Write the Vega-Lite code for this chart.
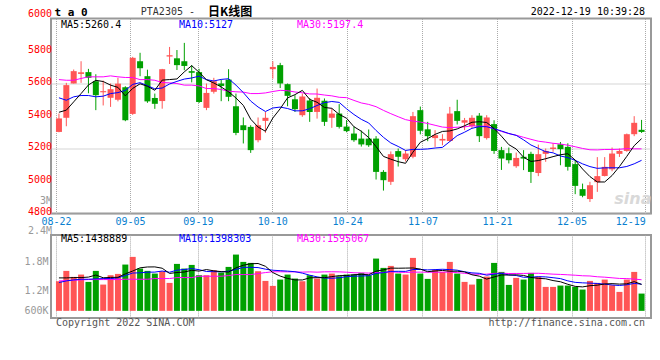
{
"$schema":"https://vega.github.io/schema/vega-lite/v6.json",
"background":"white",
"padding":{"left":22,"top":4.5,"right":0,"bottom":0},
"autosize":{"type":"pad"},
"bounds":"flush",
"spacing":21.4,
"config":{"view":{"stroke":"#999999","strokeWidth":2},"font":"DejaVu Sans Mono","axis":{"labelFont":"DejaVu Sans Mono","labelFontSize":10,"ticks":false,"domain":false,"gridColor":"#aaaaaa","gridDash":[1,1],"gridWidth":1,"title":null}},
"datasets":{"k":[
{"i":0,"d":"08-22","o":5302,"h":5415,"l":5300,"c":5385,"m5":5423,"m10":5512,"m30":5624,"v":1560000,"v5":1702000,"v10":1504000,"v30":1574000},
{"i":1,"d":"08-23","o":5389,"h":5604,"l":5337,"c":5590,"m5":5436,"m10":5497,"m30":5620,"v":2000000,"v5":1702000,"v10":1574000,"v30":1589000},
{"i":2,"d":"08-24","o":5600,"h":5686,"l":5600,"c":5676,"m5":5487,"m10":5518,"m30":5620,"v":1745000,"v5":1716000,"v10":1617000,"v30":1603000},
{"i":3,"d":"08-25","o":5659,"h":5737,"l":5604,"c":5669,"m5":5538,"m10":5526,"m30":5631,"v":1844000,"v5":1716000,"v10":1645000,"v30":1617000},
{"i":4,"d":"08-26","o":5670,"h":5690,"l":5540,"c":5635,"m5":5591,"m10":5526,"m30":5641,"v":1532000,"v5":1736000,"v10":1645000,"v30":1631000},
{"i":5,"d":"08-29","o":5614,"h":5657,"l":5436,"c":5528,"m5":5619.6,"m10":5518,"m30":5641,"v":2000000,"v5":1824000,"v10":1660000,"v30":1631000},
{"i":6,"d":"08-30","o":5546,"h":5618,"l":5465,"c":5553,"m5":5612.2,"m10":5522,"m30":5641,"v":1418000,"v5":1708000,"v10":1674000,"v30":1631000},
{"i":7,"d":"08-31","o":5512,"h":5600,"l":5456,"c":5565,"m5":5590,"m10":5538,"m30":5647,"v":1816000,"v5":1722000,"v10":1674000,"v30":1631000},
{"i":8,"d":"09-01","o":5500,"h":5635,"l":5490,"c":5599,"m5":5576,"m10":5544,"m30":5641,"v":1872000,"v5":1728000,"v10":1702000,"v30":1631000},
{"i":9,"d":"09-02","o":5577,"h":5583,"l":5368,"c":5374,"m5":5523.8,"m10":5557.4,"m30":5637,"v":2270000,"v5":1875000,"v10":1806000,"v30":1645000},
{"i":10,"d":"09-05","o":5413,"h":5764,"l":5407,"c":5758,"m5":5569.8,"m10":5594.7,"m30":5637,"v":2596000,"v5":1994000,"v10":1909000,"v30":1645000},
{"i":11,"d":"09-06","o":5737,"h":5789,"l":5645,"c":5694,"m5":5598,"m10":5605.1,"m30":5624,"v":2099000,"v5":2131000,"v10":1919000,"v30":1645000},
{"i":12,"d":"09-07","o":5645,"h":5685,"l":5481,"c":5490,"m5":5583,"m10":5586.5,"m30":5624,"v":2000000,"v5":2167000,"v10":1945000,"v30":1645000},
{"i":13,"d":"09-08","o":5511,"h":5538,"l":5444,"c":5475,"m5":5558.2,"m10":5567.1,"m30":5620,"v":1886000,"v5":2170000,"v10":1949000,"v30":1674000},
{"i":14,"d":"09-09","o":5492,"h":5690,"l":5445,"c":5688,"m5":5621,"m10":5572.4,"m30":5606,"v":1986000,"v5":2114000,"v10":1994000,"v30":1674000},
{"i":15,"d":"09-13","o":5766,"h":5825,"l":5720,"c":5774,"m5":5624.2,"m10":5597,"m30":5604,"v":1489000,"v5":1892000,"v10":1943000,"v30":1674000},
{"i":16,"d":"09-14","o":5755,"h":5806,"l":5683,"c":5713,"m5":5628,"m10":5613,"m30":5600,"v":2298000,"v5":1932000,"v10":2031000,"v30":1716000},
{"i":17,"d":"09-15","o":5737,"h":5850,"l":5682,"c":5708,"m5":5671.6,"m10":5627.3,"m30":5590,"v":2099000,"v5":1952000,"v10":2060000,"v30":1716000},
{"i":18,"d":"09-16","o":5676,"h":5713,"l":5607,"c":5666,"m5":5709.8,"m10":5634,"m30":5590,"v":2255000,"v5":2026000,"v10":2098000,"v30":1716000},
{"i":19,"d":"09-19","o":5670,"h":5690,"l":5480,"c":5486,"m5":5669.4,"m10":5645.2,"m30":5585,"v":1816000,"v5":1992000,"v10":2052000,"v30":1773000},
{"i":20,"d":"09-20","o":5450,"h":5600,"l":5436,"c":5542,"m5":5623,"m10":5623.6,"m30":5569,"v":1816000,"v5":2057000,"v10":1974000,"v30":1773000},
{"i":21,"d":"09-21","o":5549,"h":5635,"l":5538,"c":5614,"m5":5603.2,"m10":5615.6,"m30":5569,"v":2028000,"v5":2003000,"v10":1967000,"v30":1773000},
{"i":22,"d":"09-22","o":5600,"h":5624,"l":5491,"c":5585,"m5":5578.6,"m10":5625.1,"m30":5563,"v":1929000,"v5":1969000,"v10":1960000,"v30":1773000},
{"i":23,"d":"09-23","o":5624,"h":5688,"l":5491,"c":5518,"m5":5549,"m10":5629.4,"m30":5553,"v":2170000,"v5":1952000,"v10":1989000,"v30":1801000},
{"i":24,"d":"09-26","o":5460,"h":5538,"l":5282,"c":5296,"m5":5511,"m10":5590.2,"m30":5549,"v":2695000,"v5":2128000,"v10":2060000,"v30":1844000},
{"i":25,"d":"09-27","o":5343,"h":5391,"l":5231,"c":5313,"m5":5465.2,"m10":5544.1,"m30":5547,"v":2383000,"v5":2241000,"v10":2149000,"v30":1844000},
{"i":26,"d":"09-28","o":5333,"h":5343,"l":5173,"c":5190,"m5":5380.4,"m10":5491.8,"m30":5538,"v":2340000,"v5":2304000,"v10":2153000,"v30":1844000},
{"i":27,"d":"09-29","o":5251,"h":5391,"l":5238,"c":5343,"m5":5332,"m10":5455.3,"m30":5538,"v":1986000,"v5":2315000,"v10":2142000,"v30":1886000},
{"i":28,"d":"09-30","o":5370,"h":5425,"l":5296,"c":5389,"m5":5306.2,"m10":5427.6,"m30":5542,"v":1574000,"v5":2196000,"v10":2074000,"v30":1929000},
{"i":29,"d":"10-10","o":5688,"h":5737,"l":5630,"c":5702,"m5":5387.4,"m10":5449.2,"m30":5550.6,"v":1362000,"v5":1929000,"v10":2028000,"v30":1962000},
{"i":30,"d":"10-11","o":5713,"h":5727,"l":5572,"c":5600,"m5":5444.8,"m10":5455,"m30":5557.8,"v":1631000,"v5":1779000,"v10":2010000,"v30":1965000},
{"i":31,"d":"10-12","o":5596,"h":5600,"l":5460,"c":5524,"m5":5511.6,"m10":5446,"m30":5555.6,"v":1844000,"v5":1679000,"v10":1991000,"v30":1959000},
{"i":32,"d":"10-13","o":5503,"h":5528,"l":5425,"c":5442,"m5":5531.4,"m10":5431.7,"m30":5547.8,"v":1674000,"v5":1617000,"v10":1966000,"v30":1958000},
{"i":33,"d":"10-14","o":5405,"h":5538,"l":5395,"c":5520,"m5":5557.6,"m10":5431.9,"m30":5542.8,"v":1560000,"v5":1614000,"v10":1905000,"v30":1948000},
{"i":34,"d":"10-17","o":5495,"h":5510,"l":5364,"c":5425,"m5":5502.2,"m10":5444.8,"m30":5535.8,"v":1816000,"v5":1705000,"v10":1817000,"v30":1958000},
{"i":35,"d":"10-18","o":5425,"h":5569,"l":5384,"c":5512,"m5":5484.6,"m10":5464.7,"m30":5535.3,"v":1674000,"v5":1713000,"v10":1746000,"v30":1946000},
{"i":36,"d":"10-19","o":5494,"h":5508,"l":5339,"c":5364,"m5":5452.6,"m10":5482.1,"m30":5529,"v":1844000,"v5":1713000,"v10":1696000,"v30":1960000},
{"i":37,"d":"10-20","o":5389,"h":5446,"l":5327,"c":5415,"m5":5447.2,"m10":5489.3,"m30":5524,"v":1886000,"v5":1756000,"v10":1687000,"v30":1963000},
{"i":38,"d":"10-21","o":5415,"h":5473,"l":5323,"c":5333,"m5":5409.8,"m10":5483.7,"m30":5515.1,"v":1773000,"v5":1799000,"v10":1706000,"v30":1959000},
{"i":39,"d":"10-24","o":5335,"h":5375,"l":5300,"c":5307,"m5":5386.2,"m10":5444.2,"m30":5512.9,"v":1844000,"v5":1804000,"v10":1755000,"v30":1945000},
{"i":40,"d":"10-25","o":5292,"h":5335,"l":5241,"c":5251,"m5":5334,"m10":5409.3,"m30":5496,"v":1844000,"v5":1838000,"v10":1776000,"v30":1921000},
{"i":41,"d":"10-26","o":5261,"h":5310,"l":5212,"c":5225,"m5":5306.2,"m10":5379.4,"m30":5480.3,"v":1915000,"v5":1853000,"v10":1783000,"v30":1914000},
{"i":42,"d":"10-27","o":5261,"h":5317,"l":5210,"c":5220,"m5":5267.2,"m10":5357.2,"m30":5471.3,"v":1816000,"v5":1838000,"v10":1797000,"v30":1908000},
{"i":43,"d":"10-28","o":5261,"h":5276,"l":5009,"c":5056,"m5":5211.8,"m10":5310.8,"m30":5457.4,"v":2525000,"v5":1989000,"v10":1894000,"v30":1929000},
{"i":44,"d":"10-31","o":5056,"h":5067,"l":4941,"c":5005,"m5":5151.4,"m10":5268.8,"m30":5434.6,"v":2128000,"v5":2045000,"v10":1925000,"v30":1933000},
{"i":45,"d":"11-01","o":4995,"h":5182,"l":4976,"c":5165,"m5":5134.2,"m10":5234.1,"m30":5414.3,"v":2213000,"v5":2119000,"v10":1979000,"v30":1958000},
{"i":46,"d":"11-02","o":5184,"h":5200,"l":5089,"c":5149,"m5":5119,"m10":5212.6,"m30":5395.5,"v":1886000,"v5":2114000,"v10":1983000,"v30":1945000},
{"i":47,"d":"11-03","o":5134,"h":5190,"l":5120,"c":5169,"m5":5108.8,"m10":5188,"m30":5377.5,"v":1844000,"v5":2119000,"v10":1979000,"v30":1936000},
{"i":48,"d":"11-04","o":5149,"h":5425,"l":5140,"c":5399,"m5":5177.4,"m10":5194.6,"m30":5368.6,"v":2553000,"v5":2125000,"v10":2057000,"v30":1946000},
{"i":49,"d":"11-07","o":5436,"h":5458,"l":5287,"c":5309,"m5":5238.2,"m10":5194.8,"m30":5362.7,"v":1886000,"v5":2077000,"v10":2061000,"v30":1948000},
{"i":50,"d":"11-08","o":5318,"h":5364,"l":5245,"c":5276,"m5":5260.4,"m10":5197.3,"m30":5353.9,"v":1660000,"v5":1966000,"v10":2043000,"v30":1943000},
{"i":51,"d":"11-09","o":5264,"h":5313,"l":5210,"c":5282,"m5":5287,"m10":5203,"m30":5342.8,"v":2043000,"v5":1997000,"v10":2055000,"v30":1943000},
{"i":52,"d":"11-10","o":5249,"h":5288,"l":5220,"c":5259,"m5":5305,"m10":5206.9,"m30":5331.9,"v":1957000,"v5":2020000,"v10":2069000,"v30":1945000},
{"i":53,"d":"11-11","o":5246,"h":5456,"l":5240,"c":5415,"m5":5308.2,"m10":5242.8,"m30":5328.5,"v":2383000,"v5":1986000,"v10":2055000,"v30":1952000},
{"i":54,"d":"11-14","o":5430,"h":5500,"l":5348,"c":5370,"m5":5320.4,"m10":5279.3,"m30":5331,"v":1886000,"v5":1986000,"v10":2031000,"v30":1925000},
{"i":55,"d":"11-15","o":5359,"h":5388,"l":5313,"c":5374,"m5":5340,"m10":5300.2,"m30":5333,"v":1532000,"v5":1960000,"v10":1963000,"v30":1897000},
{"i":56,"d":"11-16","o":5338,"h":5405,"l":5325,"c":5389,"m5":5361.4,"m10":5324.2,"m30":5339.6,"v":1418000,"v5":1835000,"v10":1916000,"v30":1865000},
{"i":57,"d":"11-17","o":5402,"h":5418,"l":5240,"c":5276,"m5":5364.8,"m10":5334.9,"m30":5337.4,"v":1660000,"v5":1776000,"v10":1898000,"v30":1854000},
{"i":58,"d":"11-18","o":5264,"h":5405,"l":5255,"c":5391,"m5":5360,"m10":5334.1,"m30":5337.5,"v":1759000,"v5":1651000,"v10":1818000,"v30":1861000},
{"i":59,"d":"11-21","o":5350,"h":5374,"l":5167,"c":5185,"m5":5323,"m10":5321.7,"m30":5320.2,"v":2340000,"v5":1742000,"v10":1864000,"v30":1894000},
{"i":60,"d":"11-22","o":5190,"h":5210,"l":5068,"c":5138,"m5":5275.8,"m10":5307.9,"m30":5304.8,"v":1957000,"v5":1827000,"v10":1894000,"v30":1904000},
{"i":61,"d":"11-23","o":5171,"h":5206,"l":5108,"c":5128,"m5":5223.6,"m10":5292.5,"m30":5291.6,"v":1404000,"v5":1824000,"v10":1830000,"v30":1889000},
{"i":62,"d":"11-24","o":5091,"h":5175,"l":5081,"c":5142,"m5":5196.8,"m10":5280.8,"m30":5281.6,"v":1702000,"v5":1833000,"v10":1804000,"v30":1891000},
{"i":63,"d":"11-25","o":5149,"h":5190,"l":5067,"c":5138,"m5":5146.2,"m10":5253.1,"m30":5268.9,"v":1631000,"v5":1807000,"v10":1729000,"v30":1892000},
{"i":64,"d":"11-28","o":5167,"h":5180,"l":4988,"c":5056,"m5":5120.4,"m10":5221.7,"m30":5256.6,"v":1915000,"v5":1722000,"v10":1732000,"v30":1897000},
{"i":65,"d":"11-29","o":5049,"h":5224,"l":5030,"c":5165,"m5":5125.8,"m10":5200.8,"m30":5245,"v":1759000,"v5":1682000,"v10":1755000,"v30":1899000},
{"i":66,"d":"11-30","o":5167,"h":5200,"l":5118,"c":5185,"m5":5137.2,"m10":5180.4,"m30":5239.1,"v":1319000,"v5":1665000,"v10":1745000,"v30":1881000},
{"i":67,"d":"12-01","o":5197,"h":5232,"l":5180,"c":5206,"m5":5150,"m10":5173.4,"m30":5232.1,"v":1319000,"v5":1589000,"v10":1711000,"v30":1862000},
{"i":68,"d":"12-02","o":5226,"h":5240,"l":5097,"c":5196,"m5":5161.6,"m10":5153.9,"m30":5227.5,"v":1376000,"v5":1538000,"v10":1672000,"v30":1850000},
{"i":69,"d":"12-05","o":5210,"h":5232,"l":5064,"c":5087,"m5":5167.8,"m10":5144.1,"m30":5220.2,"v":1376000,"v5":1430000,"v10":1576000,"v30":1834000},
{"i":70,"d":"12-06","o":5104,"h":5130,"l":4919,"c":4970,"m5":5128.8,"m10":5127.3,"m30":5210.8,"v":1319000,"v5":1342000,"v10":1512000,"v30":1816000},
{"i":71,"d":"12-07","o":4950,"h":4984,"l":4900,"c":4909,"m5":5073.6,"m10":5105.4,"m30":5200.3,"v":1206000,"v5":1319000,"v10":1492000,"v30":1793000},
{"i":72,"d":"12-08","o":4889,"h":4995,"l":4871,"c":4974,"m5":5027.2,"m10":5088.6,"m30":5192.1,"v":1574000,"v5":1370000,"v10":1479000,"v30":1784000},
{"i":73,"d":"12-09","o":4993,"h":5147,"l":4933,"c":5030,"m5":4994,"m10":5077.8,"m30":5191.2,"v":1489000,"v5":1393000,"v10":1465000,"v30":1750000},
{"i":74,"d":"12-12","o":5031,"h":5147,"l":5028,"c":5087,"m5":4994,"m10":5080.9,"m30":5194,"v":1631000,"v5":1444000,"v10":1437000,"v30":1733000},
{"i":75,"d":"12-13","o":5072,"h":5206,"l":5060,"c":5169,"m5":5033.8,"m10":5081.3,"m30":5194.1,"v":1390000,"v5":1458000,"v10":1400000,"v30":1706000},
{"i":76,"d":"12-14","o":5167,"h":5200,"l":5148,"c":5185,"m5":5089,"m10":5081.3,"m30":5195.3,"v":1106000,"v5":1438000,"v10":1379000,"v30":1679000},
{"i":77,"d":"12-15","o":5185,"h":5292,"l":5180,"c":5288,"m5":5151.8,"m10":5089.5,"m30":5199.3,"v":1631000,"v5":1450000,"v10":1410000,"v30":1672000},
{"i":78,"d":"12-16","o":5288,"h":5399,"l":5276,"c":5358,"m5":5217.4,"m10":5105.7,"m30":5197.9,"v":1957000,"v5":1543000,"v10":1468000,"v30":1652000},
{"i":79,"d":"12-19","o":5315,"h":5376,"l":5296,"c":5302,"m5":5260.4,"m10":5127.2,"m30":5197.7,"v":1035000,"v5":1424000,"v10":1434000,"v30":1624000}
]},
"vconcat":[
{"width":600,"height":195,
 "layer":[
  {"data":{"name":"k"},"mark":{"type":"rule","strokeWidth":1},
   "encoding":{
    "x":{"field":"i","type":"quantitative","scale":{"domain":[-0.4,79.6],"nice":false,"zero":false},
         "axis":{"title":null,"values":[-0.4,9.64,18.84,28.93,39.07,49.29,59.4,69.51,79.51],"grid":true,"labelColor":"#0a7fd0","labelBaseline":"middle","labelPadding":7.5,
         "labelExpr":"['08-22','09-05','09-19','10-10','10-24','11-07','11-21','12-05','12-19'][round((datum.value+0.4)/10)]",
         "labelAlign":{"condition":{"test":"datum.value > 79","value":"right"},"value":"center"}}},
    "y":{"field":"l","type":"quantitative","scale":{"domain":[4800,6000],"nice":false,"zero":false},
         "axis":{"title":null,"values":[4800,5000,5200,5400,5600,5800],"grid":true,"labels":false}},
    "y2":{"field":"h"},
    "color":{"condition":{"test":"datum.c >= datum.o","value":"#ff5555"},"value":"#00a000"}}},
  {"data":{"name":"k"},"mark":{"type":"bar","width":6},
   "encoding":{"x":{"field":"i","type":"quantitative"},"y":{"field":"o","type":"quantitative"},"y2":{"field":"c"},
    "color":{"condition":{"test":"datum.c >= datum.o","value":"#ff5555"},"value":"#00a000"}}},
  {"data":{"name":"k"},"mark":{"type":"line","color":"#ff00ff","strokeWidth":1},
   "encoding":{"x":{"field":"i","type":"quantitative"},"y":{"field":"m30","type":"quantitative"}}},
  {"data":{"name":"k"},"mark":{"type":"line","color":"#0000ff","strokeWidth":1},
   "encoding":{"x":{"field":"i","type":"quantitative"},"y":{"field":"m10","type":"quantitative"}}},
  {"data":{"name":"k"},"mark":{"type":"line","color":"#000000","strokeWidth":1},
   "encoding":{"x":{"field":"i","type":"quantitative"},"y":{"field":"m5","type":"quantitative"}}},
  {"data":{"values":[{}]},"mark":{"type":"text","text":"6000","align":"right","baseline":"middle","fontSize":10,"color":"#ff0000"},
   "encoding":{"x":{"datum":-0.93,"type":"quantitative"},"y":{"datum":6030,"type":"quantitative"}}},
  {"data":{"values":[{}]},"mark":{"type":"text","text":"5800","align":"right","baseline":"middle","fontSize":10,"color":"#ff0000"},
   "encoding":{"x":{"datum":-0.93,"type":"quantitative"},"y":{"datum":5809,"type":"quantitative"}}},
  {"data":{"values":[{}]},"mark":{"type":"text","text":"5600","align":"right","baseline":"middle","fontSize":10,"color":"#ff0000"},
   "encoding":{"x":{"datum":-0.93,"type":"quantitative"},"y":{"datum":5609,"type":"quantitative"}}},
  {"data":{"values":[{}]},"mark":{"type":"text","text":"5400","align":"right","baseline":"middle","fontSize":10,"color":"#ff0000"},
   "encoding":{"x":{"datum":-0.93,"type":"quantitative"},"y":{"datum":5409,"type":"quantitative"}}},
  {"data":{"values":[{}]},"mark":{"type":"text","text":"5200","align":"right","baseline":"middle","fontSize":10,"color":"#ff0000"},
   "encoding":{"x":{"datum":-0.93,"type":"quantitative"},"y":{"datum":5209,"type":"quantitative"}}},
  {"data":{"values":[{}]},"mark":{"type":"text","text":"5000","align":"right","baseline":"middle","fontSize":10,"color":"#ff0000"},
   "encoding":{"x":{"datum":-0.93,"type":"quantitative"},"y":{"datum":5009,"type":"quantitative"}}},
  {"data":{"values":[{}]},"mark":{"type":"text","text":"4800","align":"right","baseline":"middle","fontSize":10,"color":"#ff0000"},
   "encoding":{"x":{"datum":-0.93,"type":"quantitative"},"y":{"datum":4810,"type":"quantitative"}}},
  {"data":{"values":[{}]},"mark":{"type":"text","text":"3M","align":"right","baseline":"middle","fontSize":10,"color":"#999999"},
   "encoding":{"x":{"datum":-0.93,"type":"quantitative"},"y":{"datum":4878,"type":"quantitative"}}},
  {"data":{"values":[{}]},"mark":{"type":"text","text":"t a 0","align":"left","baseline":"alphabetic","fontSize":11,"fontWeight":"bold","color":"#000000"},
   "encoding":{"x":{"datum":-0.6,"type":"quantitative"},"y":{"datum":6014,"type":"quantitative"}}},
  {"data":{"values":[{}]},"mark":{"type":"text","text":"PTA2305 -","align":"left","baseline":"alphabetic","fontSize":10,"color":"#333333"},
   "encoding":{"x":{"datum":11.1,"type":"quantitative"},"y":{"datum":6020,"type":"quantitative"}}},
  {"data":{"values":[{}]},"mark":{"type":"text","text":"日K线图","align":"left","baseline":"alphabetic","font":"Noto Sans CJK SC","fontSize":12,"fontWeight":"bold","color":"#000000"},
   "encoding":{"x":{"datum":20.2,"type":"quantitative"},"y":{"datum":6018,"type":"quantitative"}}},
  {"data":{"values":[{}]},"mark":{"type":"text","text":"2022-12-19 10:39:28","align":"right","baseline":"alphabetic","fontSize":10,"color":"#000000"},
   "encoding":{"x":{"datum":79.47,"type":"quantitative"},"y":{"datum":6020,"type":"quantitative"}}},
  {"data":{"values":[{}]},"mark":{"type":"text","text":"MA5:5260.4","align":"left","baseline":"alphabetic","fontSize":10,"color":"#000000"},
   "encoding":{"x":{"datum":0.27,"type":"quantitative"},"y":{"datum":5944,"type":"quantitative"}}},
  {"data":{"values":[{}]},"mark":{"type":"text","text":"MA10:5127","align":"left","baseline":"alphabetic","fontSize":10,"color":"#0000ff"},
   "encoding":{"x":{"datum":16.27,"type":"quantitative"},"y":{"datum":5944,"type":"quantitative"}}},
  {"data":{"values":[{}]},"mark":{"type":"text","text":"MA30:5197.4","align":"left","baseline":"alphabetic","fontSize":10,"color":"#ff00ff"},
   "encoding":{"x":{"datum":32.27,"type":"quantitative"},"y":{"datum":5944,"type":"quantitative"}}},
  {"data":{"values":[{}]},"mark":{"type":"text","text":"sina","align":"left","baseline":"alphabetic","font":"DejaVu Sans","fontSize":16,"fontWeight":"bold","fontStyle":"italic","color":"#d9d9d9"},
   "encoding":{"x":{"datum":75.3,"type":"quantitative"},"y":{"datum":4857,"type":"quantitative"}}}
 ]},
{"width":600,"height":83,
 "layer":[
  {"mark":{"type":"rule","color":"#aaaaaa","strokeDash":[1,1],"strokeWidth":1},
   "encoding":{"y":{"datum":2626000,"type":"quantitative"}}},
  {"mark":{"type":"rule","color":"#aaaaaa","strokeDash":[1,1],"strokeWidth":1},
   "encoding":{"y":{"datum":1804000,"type":"quantitative"}}},
  {"mark":{"type":"rule","color":"#aaaaaa","strokeDash":[1,1],"strokeWidth":1},
   "encoding":{"y":{"datum":979000,"type":"quantitative"}}},
  {"data":{"name":"k"},"mark":{"type":"bar","width":6},
   "encoding":{
    "x":{"field":"i","type":"quantitative","scale":{"domain":[-0.4,79.6],"nice":false,"zero":false},
         "axis":{"title":null,"values":[-0.4,9.64,18.84,28.93,39.07,49.29,59.4,69.51,79.51],"grid":true,"labels":false}},
    "y":{"field":"v","type":"quantitative","scale":{"domain":[0,3532000],"nice":false,"zero":false},
         "axis":{"title":null,"values":[2413000,1179000,328000],"grid":false,"labelPadding":3,"labelColor":"#999999",
         "labelExpr":"datum.value > 2000000 ? '1.8M' : datum.value > 1000000 ? '1.2M' : '600K'"}},
    "y2":{"datum":300000},
    "color":{"condition":{"test":"datum.c >= datum.o","value":"#ff5555"},"value":"#00a000"}}},
  {"data":{"name":"k"},"mark":{"type":"line","color":"#ff00ff","strokeWidth":1},
   "encoding":{"x":{"field":"i","type":"quantitative"},"y":{"field":"v30","type":"quantitative"}}},
  {"data":{"name":"k"},"mark":{"type":"line","color":"#0000ff","strokeWidth":1},
   "encoding":{"x":{"field":"i","type":"quantitative"},"y":{"field":"v10","type":"quantitative"}}},
  {"data":{"name":"k"},"mark":{"type":"line","color":"#000000","strokeWidth":1},
   "encoding":{"x":{"field":"i","type":"quantitative"},"y":{"field":"v5","type":"quantitative"}}},
  {"data":{"values":[{}]},"mark":{"type":"text","text":"2.4M","align":"right","baseline":"middle","fontSize":10,"color":"#999999"},
   "encoding":{"x":{"datum":-0.93,"type":"quantitative"},"y":{"datum":3702000,"type":"quantitative"}}},
  {"data":{"values":[{}]},"mark":{"type":"text","text":"MA5:1438889","align":"left","baseline":"alphabetic","fontSize":10,"color":"#000000"},
   "encoding":{"x":{"datum":0.27,"type":"quantitative"},"y":{"datum":3234000,"type":"quantitative"}}},
  {"data":{"values":[{}]},"mark":{"type":"text","text":"MA10:1398303","align":"left","baseline":"alphabetic","fontSize":10,"color":"#0000ff"},
   "encoding":{"x":{"datum":16.27,"type":"quantitative"},"y":{"datum":3234000,"type":"quantitative"}}},
  {"data":{"values":[{}]},"mark":{"type":"text","text":"MA30:1595067","align":"left","baseline":"alphabetic","fontSize":10,"color":"#ff00ff"},
   "encoding":{"x":{"datum":32.27,"type":"quantitative"},"y":{"datum":3234000,"type":"quantitative"}}},
  {"data":{"values":[{}]},"mark":{"type":"text","text":"Copyright 2022 SINA.COM","align":"left","baseline":"alphabetic","fontSize":10,"color":"#555555"},
   "encoding":{"x":{"datum":-0.4,"type":"quantitative"},"y":{"datum":-353000,"type":"quantitative"}}},
  {"data":{"values":[{}]},"mark":{"type":"text","text":"http://finance.sina.com.cn","align":"right","baseline":"alphabetic","fontSize":10,"color":"#555555"},
   "encoding":{"x":{"datum":79.47,"type":"quantitative"},"y":{"datum":-353000,"type":"quantitative"}}}
 ]}
]
}
